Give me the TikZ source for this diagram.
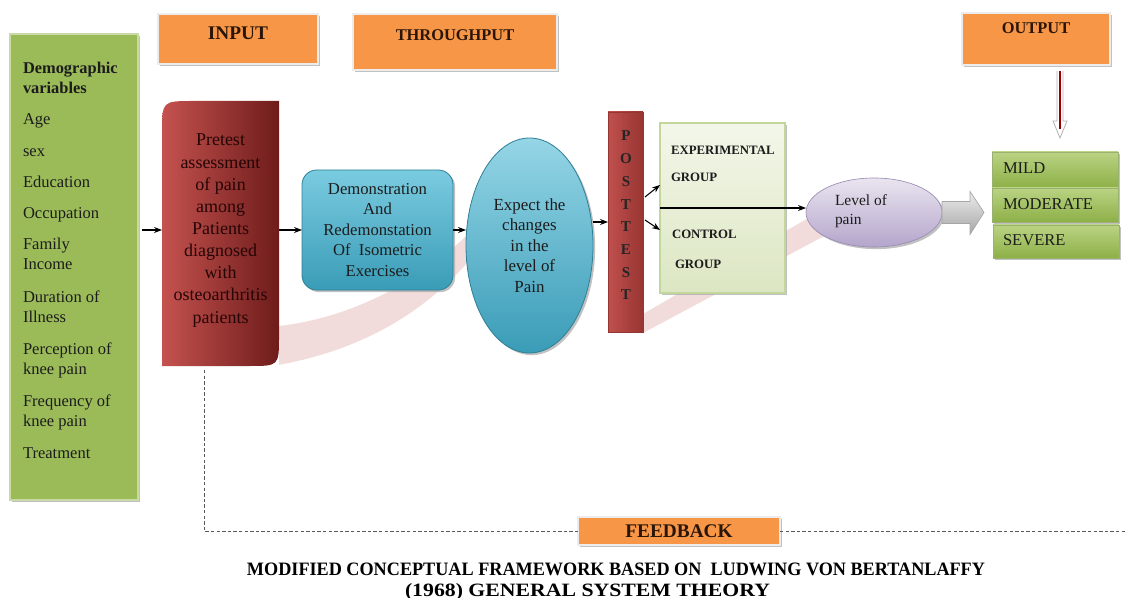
\documentclass[tikz,border=0pt]{standalone}
\usepackage{fontspec}
\usepackage{graphicx}
\setmainfont{Liberation Serif}
\usetikzlibrary{shadows,shapes.geometric,arrows.meta,calc}
\definecolor{orng}{HTML}{F79646}
\definecolor{grn}{HTML}{9BBB59}
\definecolor{grnborder}{HTML}{C9DAA6}
\definecolor{preA}{HTML}{C4524F}
\definecolor{preB}{HTML}{6E1C1B}
\definecolor{bluA}{HTML}{7ACBE0}
\definecolor{bluB}{HTML}{3A9CB7}
\definecolor{bluD}{HTML}{2F7F96}
\definecolor{postA}{HTML}{C0504D}
\definecolor{postB}{HTML}{973532}
\definecolor{grpA}{HTML}{F3F7EA}
\definecolor{grpB}{HTML}{DCE6C2}
\definecolor{grpD}{HTML}{C3D69B}
\definecolor{lvlA}{HTML}{EAE5F0}
\definecolor{lvlB}{HTML}{B4A5CB}
\definecolor{lvlD}{HTML}{9C8DB5}
\definecolor{outA}{HTML}{BAD383}
\definecolor{outB}{HTML}{8DB047}
\definecolor{outD}{HTML}{6F8F35}
\definecolor{pinkband}{HTML}{F2DCDB}
\definecolor{txt}{HTML}{1C1C1C}
\definecolor{darkmaroon}{HTML}{250505}
\definecolor{otxtc}{HTML}{2A1608}
\begin{document}
\begin{tikzpicture}[x=0.75pt,y=-0.75pt,
 base/.style={inner sep=0pt,outer sep=0pt},
 shad/.style={drop shadow={shadow xshift=1.6pt,shadow yshift=-1.6pt,fill=black!35,opacity=0.7}},
 obox/.style={base,rectangle,fill=orng,draw=white!85!gray,line width=1pt,shad},
 otxt/.style={font=\bfseries\fontsize{12.3}{14}\selectfont,text=otxtc},
 otxtbig/.style={font=\bfseries\fontsize{14.5}{16}\selectfont,text=otxtc},
 listtxt/.style={base,font=\fontsize{12.4}{15}\selectfont,text=txt},
 listbold/.style={base,font=\bfseries\fontsize{12.3}{15}\selectfont,text=txt},
 gbox/.style={base,rectangle,fill=grn,draw=grnborder,line width=1pt,shad},
 prebox/.style={base,rectangle,fill=white,
   path picture={\shade[left color=preA,right color=preB]
     (path picture bounding box.south west) -- ($(path picture bounding box.north west)+(0,32)$)
     .. controls (path picture bounding box.north west) .. ($(path picture bounding box.north west)+(32,0)$)
     -- (path picture bounding box.north east) -- ($(path picture bounding box.south east)+(0,-30)$)
     .. controls (path picture bounding box.south east) .. ($(path picture bounding box.south east)+(-30,0)$) -- cycle;}},
 pretext/.style={base,align=center,text=darkmaroon,font=\fontsize{13.5}{16.6}\selectfont},
 bluebox/.style={base,rectangle,rounded corners=11pt,top color=bluA,bottom color=bluB,draw=bluD,line width=0.6pt,shad,align=center,text=txt,font=\fontsize{12.5}{15.4}\selectfont},
 blueell/.style={base,ellipse,top color=bluA!80!white,bottom color=bluB,draw=bluD,line width=0.6pt,shad,align=center,text=txt,font=\fontsize{12.7}{15.4}\selectfont},
 postbox/.style={base,rectangle,left color=postA,right color=postB,draw=postB,line width=0.4pt},
 posttxt/.style={base,font=\bfseries\fontsize{11.3}{13}\selectfont,text=black!85},
 grpbox/.style={base,rectangle,top color=grpA,bottom color=grpB,draw=grpD,line width=0.8pt,shad},
 grptxt/.style={base,font=\bfseries\fontsize{9.6}{11}\selectfont,text=txt},
 lvlell/.style={base,ellipse,top color=lvlA,bottom color=lvlB,draw=lvlD,line width=0.5pt,shad},
 lvltxt/.style={base,align=left,font=\fontsize{11.6}{14.25}\selectfont,text=txt},
 resbox/.style={base,rectangle,top color=outA,bottom color=outB,draw=outD!70,line width=0.6pt,shad},
 restxt/.style={base,font=\fontsize{12.4}{14}\selectfont,text=txt},
 conn/.style={-{Stealth[length=6pt,width=4.5pt]},line width=0.8pt,black},
 fbline/.style={dash pattern=on 2.6pt off 1.6pt,line width=0.7pt,black!65}
]
\useasboundingbox (0,0) rectangle (1126,598);

% ---------- background decorations (drawn first) ----------
\fill[pinkband] (272,366) .. controls (370,350) and (430,305) .. (468,262)
   -- (468,234) .. controls (420,282) and (350,318) .. (279,326) -- cycle;
\fill[pinkband] (643,333) -- (826,235) -- (810,217) -- (643,314) -- cycle;

% ---------- top labels ----------
\node[obox,minimum width=120pt,minimum height=37.5pt,label={[otxtbig,yshift=4.5pt]center:INPUT}] (inp) at (238,39) {};
\node[obox,minimum width=153pt,minimum height=42pt,label={[otxt,yshift=5.25pt]center:THROUGHPUT}] (thr) at (455,42) {};
\node[obox,minimum width=111pt,minimum height=39pt,label={[otxt,yshift=8.25pt]center:OUTPUT}] (out) at (1036,39) {};

% ---------- demographic box ----------
\node[gbox,minimum width=96pt,minimum height=349.5pt] (demo) at (74,267) {};
\node[listbold,anchor=base west] (dv1) at (23,74) {Demographic};
\node[listbold,anchor=base west] (dv2) at (23,94) {variables};
\foreach \t/\yy in {Age/125,sex/157,Education/188,Occupation/219,Family/250,Income/270,Duration of/302,Illness/322,Perception of/354,knee pain/374,Frequency of/406,knee pain/426,Treatment/458}
  \node[listtxt,anchor=base west] (l\yy) at (23,\yy) {\t};

% ---------- pretest ----------
\node[prebox,minimum width=87.75pt,minimum height=198.75pt] (pre) at (220.5,233.5) {};
\node[pretext] (pret) at ($(pre.center)+(0,-3)$)
  {Pretest\\assessment\\of pain\\among\\Patients\\diagnosed\\with\\osteoarthritis\\patients};

% ---------- throughput ----------
\node[bluebox,minimum width=113.25pt,minimum height=90pt] (dbox) at (377.5,230)
  {Demonstration\\And\\Redemonstation\\Of~ Isometric\\Exercises};
\node[blueell,minimum width=95.25pt,minimum height=161.25pt] (ell) at (529.5,245.5)
  {Expect the\\changes\\in the\\level of\\Pain};

% ---------- posttest ----------
\node[postbox,minimum width=26.25pt,minimum height=165pt] (post) at (625.5,222) {};
\foreach \l [count=\i from 0] in {P,O,S,T,T,E,S,T}
  \node[posttxt,anchor=base] (p\i) at (626,{141+22.7*\i}) {\l};

% ---------- groups ----------
\node[grpbox,minimum width=93.75pt,minimum height=127.5pt] (grp) at (722.5,208) {};
\node[grptxt,anchor=base west] (g1) at (671,155) {EXPERIMENTAL};
\node[grptxt,anchor=base west] (g2) at (671,182) {GROUP};
\node[grptxt,anchor=base west] (g3) at (672,239) {CONTROL};
\node[grptxt,anchor=base west] (g4) at (675,268) {GROUP};

% ---------- level of pain ----------
\node[lvlell,minimum width=102pt,minimum height=51.75pt] (lvl) at (874,212.5) {};
\node[lvltxt,anchor=west] (lvlt) at (835,211) {Level of\\pain};

% ---------- results ----------
\node[resbox,minimum width=94.5pt,minimum height=27pt] (mild) at (1055,170) {};
\node[resbox,minimum width=94.5pt,minimum height=25.5pt] (mod) at (1055,205) {};
\node[resbox,minimum width=94.5pt,minimum height=24.75pt] (sev) at (1056,241.5) {};
\node[restxt,anchor=base west] (mildt) at (1003,173.5) {MILD};
\node[restxt,anchor=base west] (modt) at (1003,210) {MODERATE};
\node[restxt,anchor=base west] (sevt) at (1003,246) {SEVERE};

% ---------- feedback ----------
\node[obox,minimum width=151.5pt,minimum height=21pt,font=\bfseries\fontsize{14.5}{16}\selectfont,text=otxtc] (fb) at (679,531) {FEEDBACK};
\coordinate (fbend) at (1126,531);

% ---------- connectors ----------
\draw[conn,shorten <=3pt] (demo.east |- dbox.west) -- (pre.west |- dbox.west);
\draw[conn] (pre.east |- dbox.west) -- (dbox.west);
\draw[conn] (dbox.east) -- (dbox.east -| ell.west);
\draw[conn] (post.west -| ell.east) -- (post.west);
\draw[conn] ($(post.east)+(2,-25)$) -- ($(grp.west)+(0,-23)$);
\draw[conn] ($(post.east)+(2,-2)$) -- ($(grp.west)+(0,22)$);
\draw[conn] (grp.west) -- (grp.west -| lvl.west);

% block arrow from level of pain to results
\shade[top color=gray!15,bottom color=gray!70,draw=gray!70,line width=0.5pt]
  (lvl.east) ++(0,-11) -- ++(28,0) -- ++(0,-10) -- ++(14,21) -- ++(-14,22) -- ++(0,-11) -- ++(-28,0) -- cycle;

% output arrow
\begin{scope}[shift={(out.south)}]
  \draw[gray!60,fill=white,line width=0.6pt] (21,6) -- (21,56) -- (17,56) -- (24,73) -- (31,56) -- (27,56) -- (27,6);
  \draw[red!60!black,line width=1pt] (24,6) -- (24,64);
\end{scope}

% feedback loop
\draw[fbline] ($(pre.south west)+(42,4)$) |- (fb.west);
\draw[fbline] (fb.east) -- (fbend);

% ---------- title ----------
\node[base,anchor=base,text=black] (title1) at (616,575)
  {\resizebox{553.5pt}{9.4pt}{\bfseries MODIFIED CONCEPTUAL FRAMEWORK BASED ON\ \ LUDWING VON BERTANLAFFY}};
\node[base,anchor=base,text=black] (title2) at (587.5,596)
  {\resizebox{273.75pt}{9.8pt}{\bfseries (1968) GENERAL SYSTEM THEORY}};
\end{tikzpicture}
\end{document}
